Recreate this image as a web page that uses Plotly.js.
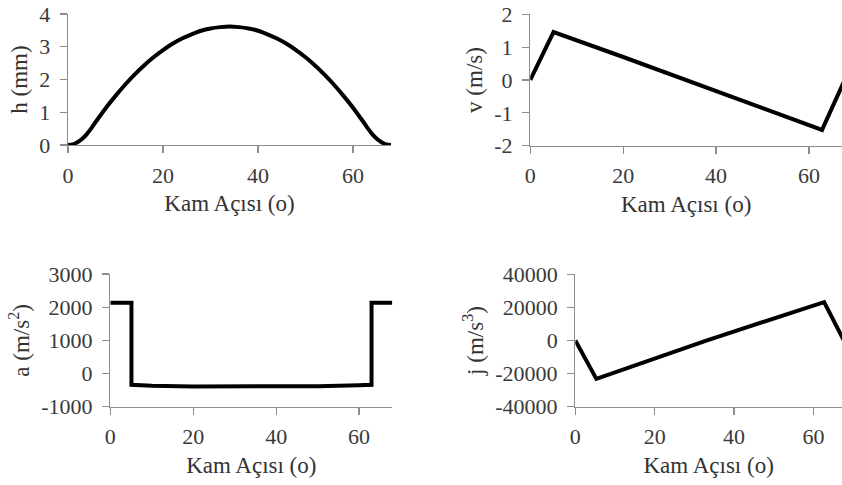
<!DOCTYPE html>
<html>
<head>
<meta charset="utf-8">
<script src="https://cdn.plot.ly/plotly-3.0.1.min.js"></script>
<style>html,body{margin:0;padding:0;background:#fff}#chart{width:842px;height:485px}</style>
</head>
<body>
<div id="chart"></div>
<script>
// h (mm) vs cam angle
const angleH = [0,1,2,3,4,5,6,8,10,12,14,16,18,20,22,24,26,28,30,32,34,36,38,40,42,44,46,48,50,52,54,56,58,60,62,63,64,65,66,67,68];
const hVals  = [0,0.02,0.085,0.19,0.34,0.53,0.74,1.14,1.50,1.84,2.15,2.43,2.68,2.90,3.09,3.25,3.38,3.49,3.56,3.60,3.62,3.60,3.56,3.49,3.38,3.25,3.09,2.90,2.68,2.43,2.15,1.84,1.50,1.14,0.74,0.53,0.34,0.19,0.085,0.02,0];
// v (m/s)
const angleV = [0,5,20,34,50,62.8,68];
const vVals  = [0,1.46,0.70,-0.03,-0.85,-1.52,0.1];
// a (m/s^2)
const angleA = [0,5.1,5.1,10,20,30,40,50,60,63,63,68];
const aVals  = [2135,2135,-340,-370,-390,-395,-390,-380,-355,-340,2135,2135];
// j (m/s^3)
const angleJ = [0,5.3,33,62.7,68];
const jVals  = [0,-23200,0,23200,-1500];

// tick labels (hyphen minus as in the reference)
const xTicks = [0,20,40,60];
const xTickText = ['0','20','40','60'];
const hTicks = [0,1,2,3,4];
const hTickText = ['0','1','2','3','4'];
const vTicks = [-2,-1,0,1,2];
const vTickText = ['-2','-1','0','1','2'];
const aTicks = [-1000,0,1000,2000,3000];
const aTickText = ['-1000','0','1000','2000','3000'];
const jTicks = [-40000,-20000,0,20000,40000];
const jTickText = ['-40000','-20000','0','20000','40000'];

const xTitle = 'Kam Açısı (o)';
const yTitles = ['h (mm)', 'v (m/s)', 'a (m/s<sup>2</sup>)', 'j (m/s<sup>3</sup>)'];

const FONT = 'Liberation Serif, Times New Roman, serif';
const lineStyle = {color:'#000', width:4};

const traces = [
  {x:angleH, y:hVals, xaxis:'x', yaxis:'y', mode:'lines', line:Object.assign({shape:'spline', smoothing:0.6}, lineStyle)},
  {x:angleV, y:vVals, xaxis:'x2', yaxis:'y2', mode:'lines', line:lineStyle},
  {x:angleA, y:aVals, xaxis:'x3', yaxis:'y3', mode:'lines', line:lineStyle},
  {x:angleJ, y:jVals, xaxis:'x4', yaxis:'y4', mode:'lines', line:lineStyle}
];

function xa(domain, range, anchor){
  return {domain:domain, range:range, anchor:anchor, showline:true, linecolor:'#8c8c8c', linewidth:1.3,
    ticks:'outside', ticklen:7, tickcolor:'#8c8c8c', tickwidth:1.3,
    tickmode:'array', tickvals:xTicks, ticktext:xTickText,
    showgrid:false, zeroline:false, ticklabelstandoff:3,
    tickfont:{family:FONT, size:22, color:'#3a3a3a'},
    title:{text:xTitle, font:{family:FONT, size:23, color:'#333'}, standoff:8}};
}
function ya(domain, range, tv, tt, anchor, title){
  return {domain:domain, range:range, anchor:anchor, showline:true, linecolor:'#8c8c8c', linewidth:1.3,
    ticks:'outside', ticklen:7, tickcolor:'#8c8c8c', tickwidth:1.3,
    tickmode:'array', tickvals:tv, ticktext:tt,
    showgrid:false, zeroline:false, ticklabelstandoff:5,
    tickfont:{family:FONT, size:22, color:'#3a3a3a'},
    title:{text:title, font:{family:FONT, size:23, color:'#333'}, standoff:5}};
}

const layout = {
  width:842, height:485, margin:{l:0,r:0,t:0,b:0}, showlegend:false,
  paper_bgcolor:'#fff', plot_bgcolor:'#fff',
  font:{family:FONT},
  xaxis: xa([0.0808,0.4644],[0,68],'y'),
  yaxis: ya([0.7010,0.9711],[0,4],hTicks,hTickText,'x',yTitles[0]),
  xaxis2: xa([0.6298,1],[0,67.1],'y2'),
  yaxis2: ya([0.6996,0.9705],[-2,2],vTicks,vTickText,'x2',yTitles[1]),
  xaxis3: xa([0.1310,0.4659],[0,68],'y3'),
  yaxis3: ya([0.1614,0.4350],[-1000,3000],aTicks,aTickText,'x3',yTitles[2]),
  xaxis4: xa([0.6833,1],[0,67.2],'y4'),
  yaxis4: ya([0.1614,0.4344],[-40000,40000],jTicks,jTickText,'x4',yTitles[3])
};

Plotly.newPlot('chart', traces, layout, {displayModeBar:false, staticPlot:true});
</script>
</body>
</html>
